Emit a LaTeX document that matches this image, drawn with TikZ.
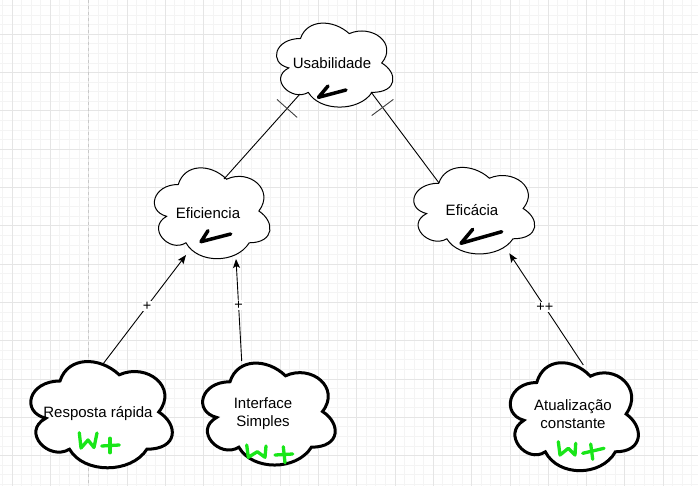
\documentclass[tikz,border=0pt]{standalone}
\usepackage{fontspec}
\setmainfont{Liberation Sans}
\usetikzlibrary{arrows.meta,decorations.markings}
\definecolor{gridminor}{HTML}{F4F4F4}
\definecolor{gridmajor}{HTML}{E5E5E5}
\definecolor{pagebreak}{HTML}{C8C8C8}
\definecolor{sketchgreen}{HTML}{19E619}
\tikzset{
  cloudpic/.pic={
    \draw[pic actions] (0.25,0.25) .. controls (0.05,0.25) and (0,0.5) .. (0.16,0.55)
      .. controls (0,0.66) and (0.18,0.9) .. (0.31,0.8)
      .. controls (0.4,1) and (0.7,1) .. (0.8,0.8)
      .. controls (1,0.8) and (1,0.6) .. (0.875,0.5)
      .. controls (1,0.3) and (0.8,0.1) .. (0.625,0.2)
      .. controls (0.5,0.05) and (0.3,0.05) .. (0.25,0.25) -- cycle;
  },
  thincloud/.style={draw=black, fill=white, line width=1pt},
  thickcloud/.style={draw=black, fill=white, line width=3pt},
  txt/.style={font=\fontsize{15}{18}\selectfont, align=center, inner sep=0pt, text=black},
  elabel/.style={font=\fontsize{14.5}{16}\selectfont, fill=white, inner sep=1pt, text=black},
  checkmark/.style={line width=3.5pt, line cap=round, line join=round, black},
  wplus/.style={line width=3.3pt, line cap=round, line join=round, sketchgreen},
  flow/.style={line width=0.9pt, -{Stealth[length=9pt,width=7pt,inset=2pt]}},
  ticked/.style={line width=0.9pt, postaction={decorate},
    decoration={markings, mark=at position 0.17 with {\draw[line width=0.9pt, black!75] (0,-13.5pt) -- (0,13.5pt);}}},
}
\begin{document}
\begin{tikzpicture}[x=1pt,y=-1pt]
\useasboundingbox (0,0) rectangle (698,486);
\fill[white] (0,0) rectangle (698,486);
\begin{scope}
\clip (0,0) rectangle (698,486);
\foreach \i in {-4,...,74} {
  \draw[gridminor, line width=0.8pt] ({12+\i*9.575},0) -- ({12+\i*9.575},486);
}
\foreach \i in {-4,...,52} {
  \draw[gridminor, line width=0.8pt] (0,{34.3+\i*9.575}) -- (698,{34.3+\i*9.575});
}
\foreach \i in {-1,...,18} {
  \draw[gridmajor, line width=0.8pt] ({12+\i*38.3},0) -- ({12+\i*38.3},486);
}
\foreach \i in {-1,...,12} {
  \draw[gridmajor, line width=0.8pt] (0,{34.3+\i*38.3}) -- (698,{34.3+\i*38.3});
}
\draw[pagebreak, line width=1pt, dash pattern=on 3pt off 3pt] (88.7,0) -- (88.7,486);
\end{scope}

% clouds
\pic[thincloud, xscale=130, yscale=98] at (268,14) {cloudpic};
\pic[thincloud, xscale=129, yscale=106] at (146,158) {cloudpic};
\pic[thincloud, xscale=135, yscale=101] at (405,158) {cloudpic};
\pic[thickcloud, xscale=158, yscale=124] at (20.5,350) {cloudpic};
\pic[thickcloud, xscale=148, yscale=119] at (193,352) {cloudpic};
\pic[thickcloud, xscale=143, yscale=126] at (501,351) {cloudpic};

% texts
\node[txt] (usa) at (332,63) {Usabilidade};
\node[txt] (efi) at (208,213) {Eficiencia};
\node[txt] (efc) at (472,210) {Eficácia};
\node[txt] (res) at (98,414) {Resposta rápida};
\node[txt] (int) at (263,414) {Interface\\Simples};
\node[txt] (atu) at (573,414) {Atualização\\constante};

% connection points on the cloud outlines
\coordinate (usaBL) at (300,94);
\coordinate (usaBR) at (371,92);
\coordinate (efiT) at (224,179);
\coordinate (efcT) at (439,183);
\coordinate (efiB1) at (186,255);
\coordinate (efiB2) at (236,259);
\coordinate (efcB) at (509.3,253.3);
\coordinate (resT) at (103,364);
\coordinate (intT) at (241.7,361);
\coordinate (atuT) at (583.3,365);

% connectors
\draw[ticked] (usaBL) -- (efiT);
\draw[ticked] (usaBR) -- (efcT);
\draw[flow] (resT) -- node[elabel, pos=0.53] (l1) {+} (efiB1);
\draw[flow] (intT) -- node[elabel, pos=0.55] (l2) {+} (efiB2);
\draw[flow] (atuT) -- node[elabel, pos=0.52] (l3) {++} (efcB);

% check marks
\draw[checkmark] (328,86) -- (318.5,97.3) -- (346,90);
\draw[checkmark] (208,230.7) -- (201,241.7) -- (230.7,234);
\draw[checkmark] (472.7,229.3) -- (461,243.3) -- (501.7,231.7);

% W+ sketches
\draw[wplus] (79.3,432.7) -- (81,448) -- (88,440) -- (94,447.5) -- (97,433);
\draw[wplus] (101.7,446) -- (119.3,445);
\draw[wplus] (110,438.3) -- (110,452.7);
\draw[wplus] (246.7,445) -- (248.3,457.3) -- (257.3,451.7) -- (265,457.3) -- (266,446);
\draw[wplus] (275,455) -- (292.7,454);
\draw[wplus] (283.3,446.7) -- (285,462.7);
\draw[wplus] (558.3,441.7) -- (560,455) -- (568.3,448.3) -- (575,455) -- (575.7,443.3);
\draw[wplus] (582.7,453.3) -- (604,448.3);
\draw[wplus] (590.7,444) -- (592.7,459.3);
\end{tikzpicture}
\end{document}
